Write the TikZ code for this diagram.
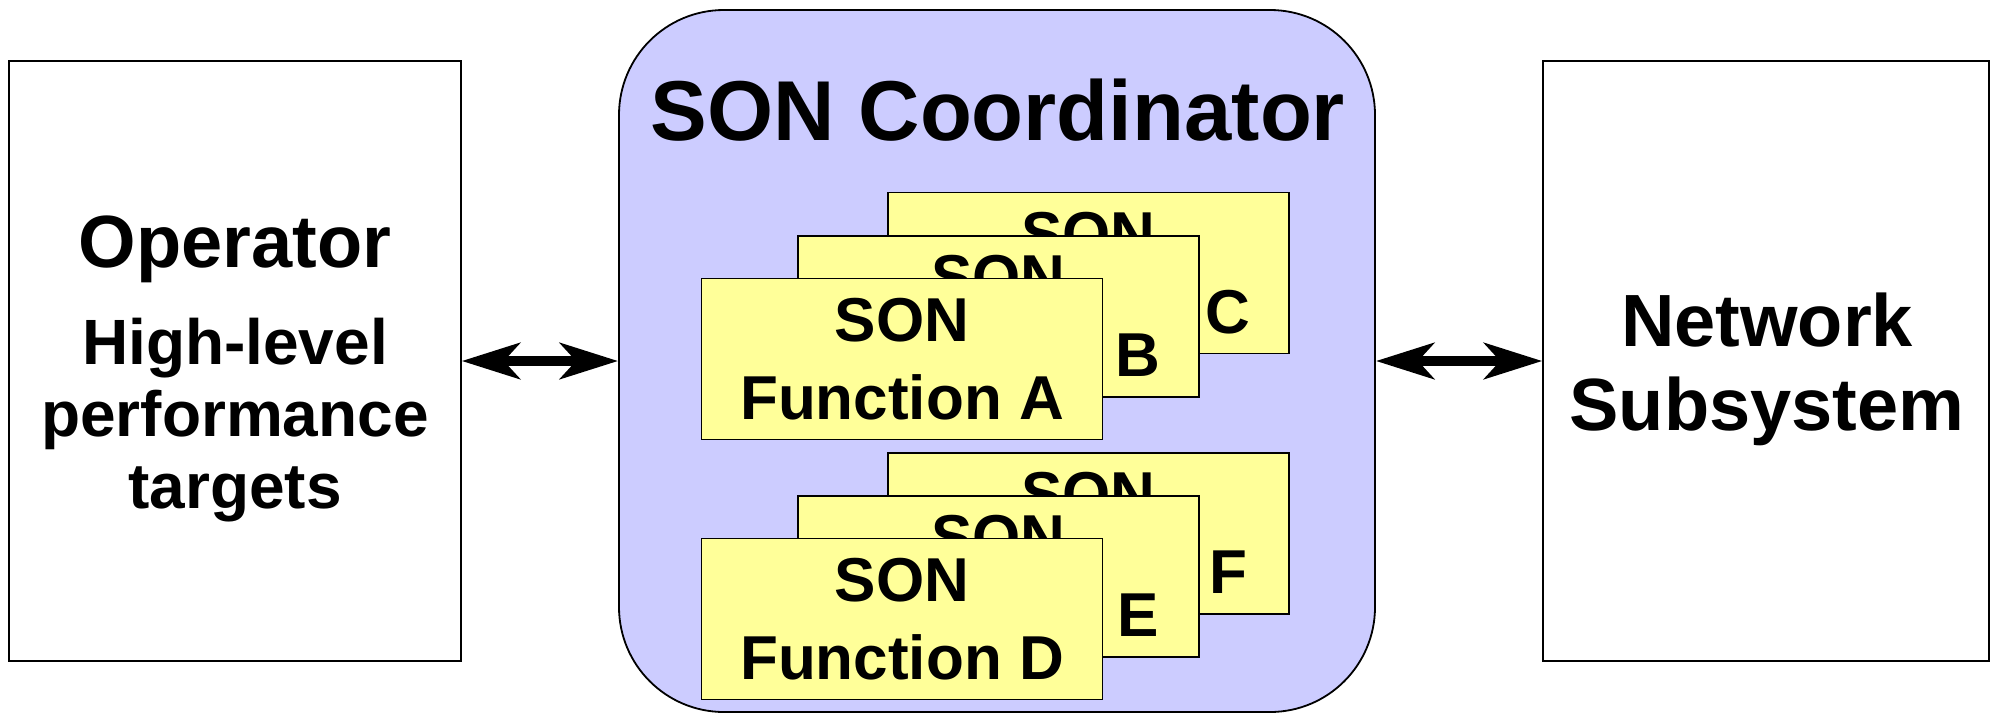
\documentclass[tikz,border=0pt]{standalone}
\usepackage{fontspec}
\setmainfont{Liberation Sans}
\usetikzlibrary{arrows.meta}
\definecolor{coordfill}{RGB}{204,204,255}
\definecolor{funcfill}{RGB}{255,255,153}
\tikzset{
  sidebox/.style={draw=black, line width=1.5pt, fill=white, inner sep=0pt,
    minimum height=600pt},
  coordbox/.style={draw=black, line width=1.8pt, fill=coordfill, inner sep=0pt,
    rounded corners=105pt, minimum width=756pt, minimum height=702pt},
  funcbox/.style={draw=black, line width=1.5pt, fill=funcfill, inner sep=0pt,
    minimum width=401pt, minimum height=161pt, align=center,
    font=\bfseries\fontsize{62}{78}\selectfont},
  label/.style={inner sep=0pt, align=center},
  biarrow/.style={line width=10pt,
    {Stealth[length=58pt,width=36pt,inset=16pt]}-{Stealth[length=58pt,width=36pt,inset=16pt]}}
}
\begin{document}
\begin{tikzpicture}[x=1pt,y=-1pt]
  \useasboundingbox (0,0) rectangle (1993,716);

  % outer blocks
  \node[sidebox, minimum width=452pt] (op) at (235,361) {};
  \node[coordbox] (coord) at (997,361) {};
  \node[sidebox, minimum width=446pt] (net) at (1766,361) {};

  % texts of the outer blocks
  \node[label, anchor=base, font=\bfseries\fontsize{74}{88}\selectfont] (optitle) at (235,267) {Operator};
  \node[label, font=\bfseries\fontsize{64}{72}\selectfont] (optext) at (235,420) {High-level\\performance\\targets};
  \node[label, anchor=base, font=\bfseries\fontsize{85}{100}\selectfont] (coordtitle) at (998,140) {SON Coordinator};
  \node[label, font=\bfseries\fontsize{74}{84}\selectfont] (nettext) at (1767,369) {Network\\Subsystem};

  % first stack of SON functions
  \node[funcbox] (fc) at (1088.5,273) {SON\\Function C};
  \node[funcbox] (fb) at (998.5,316.5) {SON\\Function B};
  \node[funcbox] (fa) at (902,359) {SON\\Function A};

  % second stack of SON functions
  \node[funcbox] (ff) at (1088.5,533.5) {SON\\Function F};
  \node[funcbox] (fe) at (998.5,576.5) {SON\\Function E};
  \node[funcbox] (fd) at (902,619) {SON\\Function D};

  % interfaces
  \draw[biarrow] (op.east) -- (coord.west);
  \draw[biarrow] (coord.east) -- (net.west);
\end{tikzpicture}
\end{document}
